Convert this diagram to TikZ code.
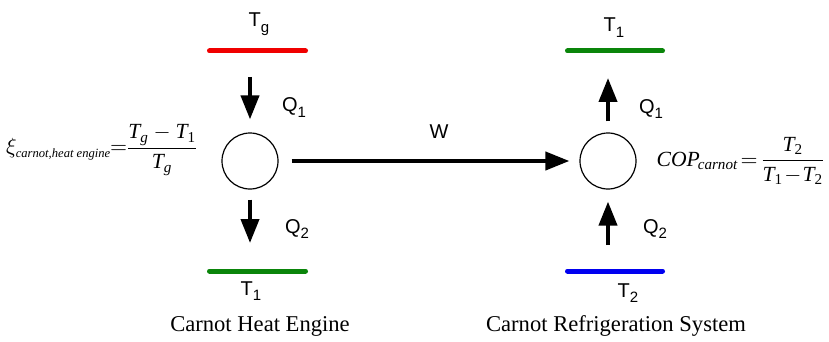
\documentclass[tikz,border=0pt]{standalone}
\usepackage{amsmath}
\usepackage{fontspec}
\setmainfont{Liberation Serif}
\newfontfamily\labelfont{Liberation Sans}
\usetikzlibrary{arrows.meta,calc}
\definecolor{hotred}{HTML}{F00000}
\definecolor{coldgreen}{HTML}{0A850A}
\definecolor{coldblue}{HTML}{0000F0}
\newcommand{\lowsub}[1]{\raisebox{-0.55ex}{\fontsize{7.5}{8}\selectfont#1}}
\newcommand{\mi}[1]{\text{\itshape #1}}

\begin{document}
\begin{tikzpicture}[x=0.5pt, y=-0.5pt,
  bath/.style={line width=2.5pt, line cap=round},
  heat/.style={-{Triangle[length=12pt,width=9pt]}, line width=2pt},
  machine/.style={circle, draw, line width=0.6pt, minimum size=28pt, inner sep=0pt},
  lbl/.style={font=\labelfont\fontsize{10}{12}\selectfont, anchor=base, inner sep=0pt},
  caption/.style={font=\fontsize{11.3}{13}\selectfont, anchor=base, inner sep=0pt}]
\useasboundingbox (0,0) rectangle (829,342);
\node[machine] (engine) at (250,161) {};
\node[machine] (fridge) at (608,161) {};
\coordinate (hotL) at (209.5,51);
\coordinate (hotR) at (305.5,51);
\coordinate (coldL) at (209.5,271);
\coordinate (coldR) at (305.5,271);
\coordinate (upL) at (567.5,51);
\coordinate (upR) at (662.5,51);
\coordinate (lowL) at (567.5,271);
\coordinate (lowR) at (662.5,271);
\draw[bath, hotred] (hotL) -- (hotR);
\draw[bath, coldgreen] (coldL) -- (coldR);
\draw[bath, coldgreen] (upL) -- (upR);
\draw[bath, coldblue] (lowL) -- (lowR);
\coordinate (qin) at (250,77);
\coordinate (qout) at (250,243);
\coordinate (qrej) at (608,78);
\coordinate (qabs) at (608,245);
\draw[heat, shorten >=6.5pt] (qin) -- (engine.north);
\draw[heat, shorten <=5pt] (engine.south) -- (qout);
\draw[heat, shorten <=5.5pt] (fridge.north) -- (qrej);
\draw[heat, shorten >=6pt] (qabs) -- (fridge.south);
\draw[heat, shorten <=6.5pt, shorten >=5pt] (engine.east) -- (fridge.west);
\node[lbl] (tg) at (259,27) {T\lowsub{g}};
\node[lbl] (qa) at (294,112) {Q\lowsub{1}};
\node[lbl] (qb) at (297,233) {Q\lowsub{2}};
\node[lbl] (tla) at (251,295) {T\lowsub{1}};
\node[lbl] (w) at (439,139) {W};
\node[lbl] (tlb) at (614,32) {T\lowsub{1}};
\node[lbl] (qc) at (651,113) {Q\lowsub{1}};
\node[lbl] (qd) at (655,233) {Q\lowsub{2}};
\node[lbl] (ttwo) at (628,297) {T\lowsub{2}};
\node[caption] (cap1) at (260,331) {Carnot Heat Engine};
\node[caption] (cap2) at (616,331) {Carnot Refrigeration System};
\node[anchor=east, inner sep=0pt, font=\fontsize{10.8}{13}\selectfont] (eff) at (199,150)
  {$\xi_{\text{\fontsize{6.3}{7}\selectfont\itshape carnot,heat engine}}\!\!=\!\!\dfrac{\mi{T}_{\mi{g}}-\mi{T}_{\text{1}}}{\mi{T}_{\mi{g}}}$};
\node[anchor=east, inner sep=0pt, font=\fontsize{10.8}{13}\selectfont] (cop) at (826,161)
  {${\mi{COP}\kern-1pt}_{\mi{carnot}}\!=\!\dfrac{\mi{T}_{\text{2}}}{\mi{T}_{\text{1}}\!-\!\mi{T}_{\text{2}}}$};
\end{tikzpicture}
\end{document}
